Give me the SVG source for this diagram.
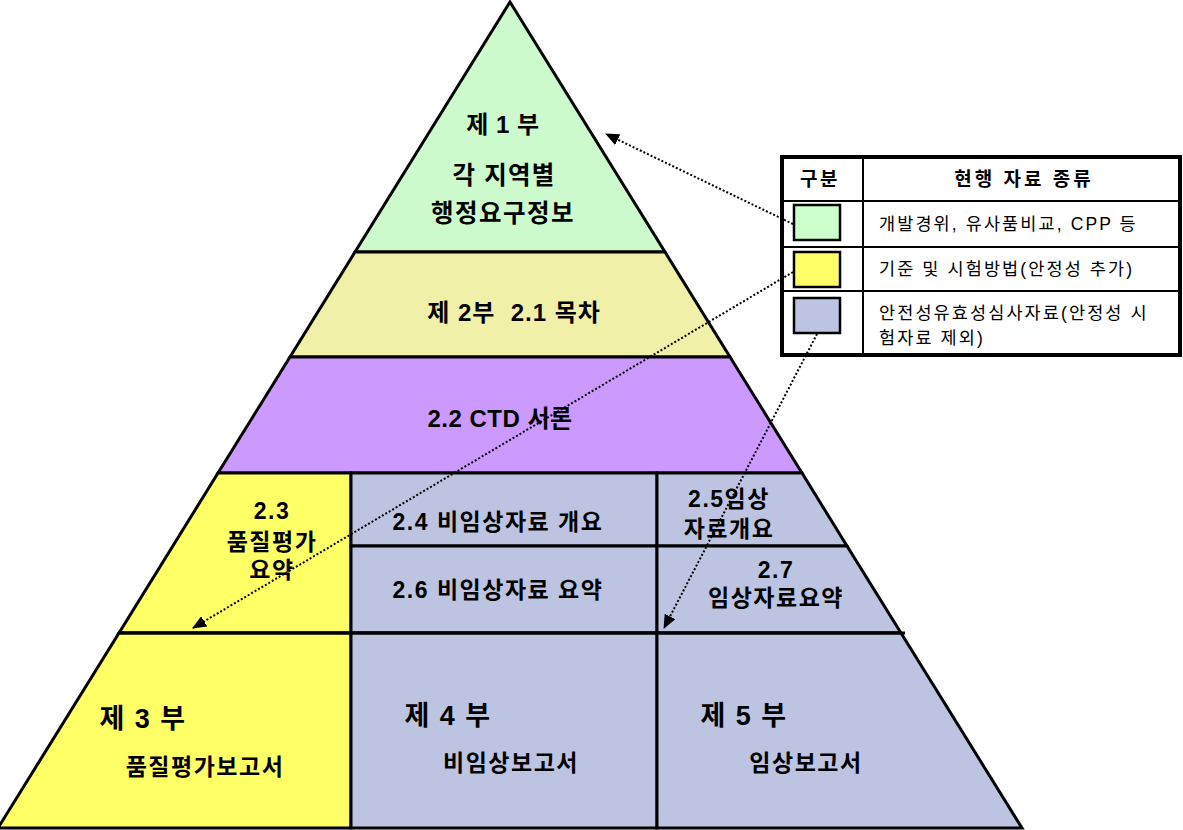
<svg xmlns="http://www.w3.org/2000/svg" width="1183" height="830" viewBox="0 0 1183 830">
<style>
.band{stroke:#000;stroke-width:3;stroke-linejoin:miter}
.t{font-family:"Liberation Sans","Noto Sans CJK KR",sans-serif;fill:#000}
.b{font-weight:bold}
.c{text-anchor:middle}
.m{font-size:23px;letter-spacing:1.5px}
.conn{fill:none;stroke:#000;stroke-width:2;stroke-dasharray:2 2}
.lg{fill:none;stroke:#000}
.sw{stroke:#000;stroke-width:2.5}
.lt{font-size:17.5px;letter-spacing:2.1px}
</style>
<defs>
<marker id="ah" markerWidth="14" markerHeight="12" refX="13" refY="6" orient="auto" markerUnits="userSpaceOnUse">
<path d="M0,0 L14,6 L0,12 Z" fill="#000"/>
</marker>
</defs>
<rect width="1183" height="830" fill="#fff"/>

<g id="part1">
<polygon class="band" points="510,2 665,252 355,252" fill="#CCFACC"/>
<text class="t b c" x="503" y="133" font-size="24" letter-spacing="0.5" xml:space="preserve">제 1 부</text>
<text class="t b c" x="504" y="184" font-size="24.5" letter-spacing="1.2">각 지역별</text>
<text class="t b c" x="503" y="222" font-size="24.5" letter-spacing="1.5">행정요구정보</text>
</g>

<g id="part2-toc">
<polygon class="band" points="355,252 665,252 730,357 290,357" fill="#F0F0A8"/>
<text class="t b c" x="514" y="321" font-size="24" letter-spacing="1" xml:space="preserve">제 2부  2.1 목차</text>
</g>

<g id="ctd-intro">
<polygon class="band" points="290,357 730,357 802,473 218,473" fill="#CC99FF"/>
<text class="t b c" x="500" y="427" font-size="24" letter-spacing="0.5">2.2 CTD 서론</text>
</g>

<g id="s2-3">
<polygon class="band" points="218,473 351,473 351,633 119,633" fill="#FFFF66"/>
<text class="t b c m" x="272" y="519">2.3</text>
<text class="t b c m" x="272" y="550">품질평가</text>
<text class="t b c m" x="272" y="578">요약</text>
</g>

<g id="s2-4">
<rect class="band" x="351" y="473" width="306" height="73" fill="#BCC4E2"/>
<text class="t b c m" x="498" y="530">2.4 비임상자료 개요</text>
</g>

<g id="s2-6">
<rect class="band" x="351" y="546" width="306" height="87" fill="#BCC4E2"/>
<text class="t b c m" x="498" y="598">2.6 비임상자료 요약</text>
</g>

<g id="s2-5">
<polygon class="band" points="657,473 802,473 847,546 657,546" fill="#BCC4E2"/>
<text class="t b c m" x="729" y="507">2.5임상</text>
<text class="t b c m" x="729" y="537">자료개요</text>
</g>

<g id="s2-7">
<polygon class="band" points="657,546 847,546 901,633 657,633" fill="#BCC4E2"/>
<text class="t b c m" x="776" y="578">2.7</text>
<text class="t b c m" x="776" y="606">임상자료요약</text>
</g>

<g id="part3">
<polygon class="band" points="119,633 351,633 351,828 -2,828" fill="#FFFF66"/>
<text class="t b c" x="143" y="728" font-size="27" letter-spacing="1.5" xml:space="preserve">제 3 부</text>
<text class="t b c m" x="205" y="775">품질평가보고서</text>
</g>

<g id="part4">
<rect class="band" x="351" y="633" width="306" height="195" fill="#BCC4E2"/>
<text class="t b c" x="448" y="725" font-size="27" letter-spacing="1.5" xml:space="preserve">제 4 부</text>
<text class="t b c m" x="511" y="771">비임상보고서</text>
</g>

<g id="part5">
<polygon class="band" points="657,633 901,633 1022,828 657,828" fill="#BCC4E2"/>
<text class="t b c" x="744" y="725" font-size="27" letter-spacing="1.5" xml:space="preserve">제 5 부</text>
<text class="t b c m" x="806" y="771">임상보고서</text>
</g>

<line x1="118" y1="633" x2="905" y2="633" stroke="#000" stroke-width="3"/>

<g id="legend">
<rect x="782" y="157" width="398" height="198" fill="#fff" stroke="#000" stroke-width="4"/>
<line class="lg" x1="863" y1="157" x2="863" y2="355" stroke-width="2"/>
<line class="lg" x1="782" y1="201" x2="1180" y2="201" stroke-width="2"/>
<line class="lg" x1="782" y1="247" x2="1180" y2="247" stroke-width="2"/>
<line class="lg" x1="782" y1="291" x2="1180" y2="291" stroke-width="2"/>
<text class="t b c" x="820" y="186" font-size="19" letter-spacing="2.5">구분</text>
<text class="t b c" x="1024" y="186" font-size="19" letter-spacing="3" xml:space="preserve">현행 자료 종류</text>
<rect class="sw" x="794" y="205" width="46" height="35" fill="#CCFFCC"/>
<rect class="sw" x="794" y="252" width="46" height="35" fill="#FFFF66"/>
<rect class="sw" x="794" y="298" width="46" height="35" fill="#BCC4E2"/>
<text class="t lt" x="879" y="230">개발경위, 유사품비교, CPP 등</text>
<text class="t lt" x="879" y="275">기준 및 시험방법(안정성 추가)</text>
<text class="t lt" x="879" y="319">안전성유효성심사자료(안정성 시</text>
<text class="t lt" x="879" y="344">험자료 제외)</text>
</g>

<g id="connectors">
<line class="conn" x1="793" y1="224" x2="606" y2="134" marker-end="url(#ah)"/>
<line class="conn" x1="793" y1="272" x2="193" y2="628" marker-end="url(#ah)"/>
<line class="conn" x1="817" y1="334" x2="664" y2="628" marker-end="url(#ah)"/>
</g>
</svg>
